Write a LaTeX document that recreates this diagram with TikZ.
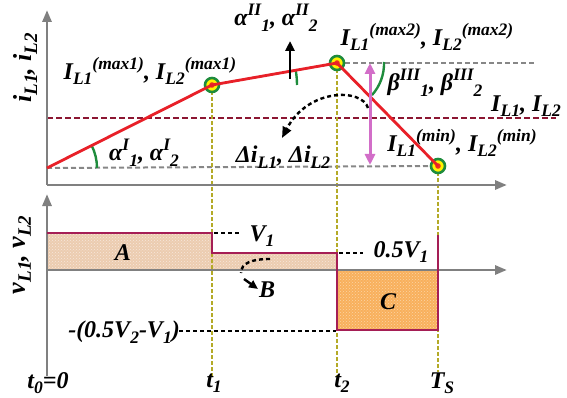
\documentclass[tikz,border=0pt]{standalone}
\usepackage{fontspec}
\setmainfont{Liberation Serif}
\usetikzlibrary{arrows.meta,patterns}
\definecolor{axisgray}{RGB}{128,128,128}
\definecolor{curvered}{RGB}{232,32,40}
\definecolor{darkred}{RGB}{140,22,50}
\definecolor{olivey}{RGB}{180,170,40}
\definecolor{stepmag}{RGB}{165,30,85}
\definecolor{angreen}{RGB}{30,140,60}
\definecolor{orchidc}{RGB}{210,110,200}
\definecolor{peach}{RGB}{236,204,176}
\definecolor{orangec}{RGB}{248,176,92}
\definecolor{dashgray}{RGB}{135,135,135}
\newcommand\Sb[1]{\lower5.5pt\hbox{\fontsize{17.5}{17.5}\selectfont #1}}
\newcommand\Sp[1]{\raise10pt\hbox{\fontsize{17.5}{17.5}\selectfont #1}}
\newcommand\SbR[1]{\lower6pt\hbox{\fontsize{19}{19}\selectfont #1}}
\tikzset{
  axisline/.style={draw=axisgray, line width=2.8pt, -{Triangle[length=12pt,width=9pt]}},
  lab/.style={font=\fontsize{24}{26}\selectfont\bfseries\itshape, inner sep=0pt},
  rlab/.style={font=\fontsize{26}{28}\selectfont\bfseries\itshape, inner sep=0pt, rotate=90},
  gdash/.style={draw=dashgray, line width=2pt, dash pattern=on 5pt off 3pt},
  rdash/.style={draw=darkred, line width=2.4pt, dash pattern=on 6pt off 3pt},
  ydash/.style={draw=olivey, line width=2.6pt, dash pattern=on 4pt off 2pt},
  kdash/.style={draw=black, line width=2.4pt, dash pattern=on 4pt off 3pt},
  mk/.style={circle, draw=angreen, line width=2.6pt, fill=yellow, inner sep=0pt, minimum size=14pt},
  anga/.style={draw=angreen, line width=2.4pt},
}
\begin{document}
\begin{tikzpicture}[x=1pt,y=-1pt]
\useasboundingbox (0,0) rectangle (567,398);
% key points
\coordinate (P0) at (47,168);
\coordinate (P1) at (212,85);
\coordinate (P2) at (337,63);
\coordinate (P3) at (438,166);
\coordinate (O1) at (47,185);
\coordinate (Y1) at (47,10);
\coordinate (X1) at (507,185);
\coordinate (O2) at (47,376);
\coordinate (Y2) at (47,194);
\coordinate (Z2) at (47,270);
\coordinate (X2) at (507,270);
% bottom fills
\fill[peach] (47,233) rectangle (212,270);
\fill[peach] (212,253) rectangle (337,270);
\fill[orangec] (337,270) rectangle (438,330);
\fill[pattern=crosshatch dots, pattern color=white!55!peach] (47,233) rectangle (212,270);
\fill[pattern=crosshatch dots, pattern color=white!55!peach] (212,253) rectangle (337,270);
\fill[pattern=crosshatch dots, pattern color=white!45!orangec] (337,270) rectangle (438,330);
% dashed reference lines (top)
\draw[gdash] (P0) -- (P3);
\draw[gdash] (P1) -- (P2);
\draw[gdash] (P2) -- (535,63);
\draw[rdash] (47,118) -- (556,118);
% vertical time lines
\coordinate (T1b) at (212,376);
\coordinate (T2b) at (337,376);
\coordinate (TSb) at (438,372);
\draw[ydash] (P1) -- (T1b);
\draw[ydash] (P2) -- (T2b);
\draw[ydash] (P3) -- (TSb);
% axes
\draw[axisline] (O1) -- (Y1);
\draw[axisline] (O1) -- (X1);
\draw[axisline] (O2) -- (Y2);
\draw[axisline] (Z2) -- (X2);
% step voltage
\draw[stepmag, line width=2.6pt, line join=miter]
  (47,233) -- (212,233) -- (212,253) -- (337,253) -- (337,330) -- (438,330) -- (438,235);
% voltage level dashes
\coordinate (V1a) at (214,233);
\coordinate (V1b) at (240,233);
\coordinate (V5a) at (339,253);
\coordinate (V5b) at (363,253);
\coordinate (VNa) at (179,331);
\coordinate (VNb) at (336,331);
\draw[kdash] (V1a) -- (V1b);
\draw[kdash] (V5a) -- (V5b);
\draw[kdash] (VNa) -- (VNb);
% angle arcs
\draw[anga] (97,168) arc[start angle=0, end angle=-27, radius=50];
\draw[anga] (297,85) arc[start angle=0, end angle=-10, radius=85];
\draw[anga] (384,62) arc[start angle=-2, end angle=42, radius=47];
% markers
\node[mk] (M1) at (P1) {};
\node[mk] (M2) at (P2) {};
\node[mk] (M3) at (P3) {};
\fill[curvered!80!orange] (P1) circle (2.8);
\fill[curvered!80!orange] (P2) circle (2.8);
\fill[curvered!80!orange] (P3) circle (2.8);
% current waveform
\draw[curvered, line width=2.8pt, line join=round] (P0) -- (P1) -- (P2) -- (P3);
% arrows
\coordinate (UA) at (290,79);
\coordinate (UB) at (290,41);
\draw[black, line width=2.8pt, -{Triangle[length=10pt,width=9pt]}] (UA) -- (UB);
\coordinate (DA) at (370,63);
\coordinate (DB) at (370,165);
\draw[orchidc, line width=3pt, {Triangle[length=11pt,width=10pt]}-{Triangle[length=11pt,width=10pt]}] (DA) -- (DB);
\coordinate (CA) at (368,108);
\coordinate (CB) at (282,138);
\draw[kdash, -{Triangle[length=11pt,width=9pt]}] (CA) .. controls (362,88) and (308,88) .. (CB);
\coordinate (BA) at (270,259);
\coordinate (BB) at (241,273);
\draw[kdash] (BA) .. controls (252,259) and (241,263) .. (BB);
\coordinate (BC) at (244,279);
\coordinate (BD) at (258,289);
\draw[black, line width=2.4pt, -{Triangle[length=9pt,width=8pt]}] (BC) -- (BD);
% labels
\node[rlab] (liL) at (25,68) {i\SbR{L1}, i\SbR{L2}};
\node[lab] (lmax1) at (150,71) {I\Sb{L1}\Sp{(max1)}, I\Sb{L2}\Sp{(max1)}};
\node[lab] (laII) at (276,18) {α\Sp{II}\Sb{1}, α\Sp{II}\Sb{2}};
\node[lab] (lmax2) at (427,37) {I\Sb{L1}\Sp{(max2)}, I\Sb{L2}\Sp{(max2)}};
\node[lab] (laI) at (144,153) {α\Sp{I}\Sb{1}, α\Sp{I}\Sb{2}};
\node[lab] (ldi) at (283,157) {Δi\Sb{L1}, Δi\Sb{L2}};
\node[lab] (lb) at (435,83) {β\Sp{III}\Sb{1}, β\Sp{III}\Sb{2}};
\node[lab] (lIL) at (526,106) {I\Sb{L1}, I\Sb{L2}};
\node[lab] (lmin) at (462,143) {I\Sb{L1}\Sp{(min)}, I\Sb{L2}\Sp{(min)}};
\node[rlab] (lvL) at (22,255) {v\SbR{L1}, v\SbR{L2}};
\node[lab] (lA) at (123,253) {A};
\node[lab] (lB) at (267,290) {B};
\node[lab] (lC) at (388,302) {C};
\node[lab] (lV1) at (262,236) {V\Sb{1}};
\node[lab] (lV5) at (401,252) {0.5V\Sb{1}};
\node[lab] (lVN) at (124,332) {-(0.5V\Sb{2}-V\Sb{1})};
\node[lab] (lt0) at (48,383) {t\Sb{0}=0};
\node[lab] (lt1) at (214,383) {t\Sb{1}};
\node[lab] (lt2) at (342,383) {t\Sb{2}};
\node[lab] (lTS) at (442,383) {T\Sb{S}};
\end{tikzpicture}
\end{document}
